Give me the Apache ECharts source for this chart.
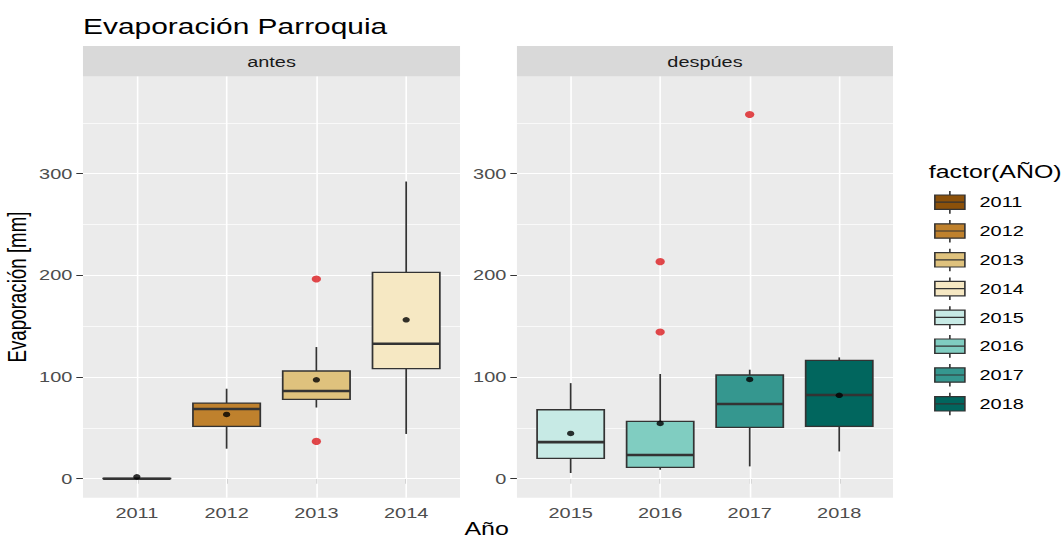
<!DOCTYPE html>
<html>
<head>
<meta charset="utf-8">
<script src="https://cdn.jsdelivr.net/npm/echarts@6/dist/echarts.min.js"></script>
<style>
  html, body { margin: 0; padding: 0; background: #ffffff; overflow: hidden; }
  #chart { width: 798px; height: 540px; transform: scaleX(1.3296); transform-origin: 0 0; }
</style>
</head>
<body>
<div id="chart"></div>
<script>
// ---------- data ----------
const years = ['2011', '2012', '2013', '2014', '2015', '2016', '2017', '2018'];
const panelAntes = ['2011', '2012', '2013', '2014'];
const panelDespues = ['2015', '2016', '2017', '2018'];
const whiskerLow  = [0,   29.5, 70,    44,    5.6,  8.8,  12.1,  26.8];
const q1          = [0,   51.4, 78,    108.2, 20,   11.1, 50.4,  51.4];
const median      = [0,   68.5, 86.2,  132.7, 36,   23.3, 73.5,  82.3];
const q3          = [0.4, 74.4, 105.9, 202.9, 67.8, 56.3, 102,   116.3];
const whiskerHigh = [0.4, 88.5, 129.5, 292.3, 94,   103,  107.2, 119.3];
const means       = [1.8, 63.2, 97.3,  156.3, 44.5, 54.4, 97.6,  82];
const outlierYears  = ['2013', '2013', '2016', '2016', '2017'];
const outlierValues = [196.4, 36.7, 213.5, 144.2, 358.2];
const yearColors = ['#8C510A', '#BF812D', '#DFC27D', '#F6E8C3', '#C7EAE5', '#80CDC1', '#35978F', '#01665E'];
const majorTicks = [0, 100, 200, 300];
const minorTicks = [50, 150, 250, 350];
const yMin = -18.7, yMax = 395.6;

// ---------- layout (internal px; page is stretched horizontally by CSS) ----------
const FONT = "'Liberation Sans', Arial, sans-serif";
const panels = [
  { left: 62.4, width: 283.6, cats: panelAntes, label: 'antes' },
  { left: 388.8, width: 282.8, cats: panelDespues, label: 'despúes' }
];
const PANEL_TOP = 76.5, PANEL_H = 421.2;
// discrete positions 1..n, with ggplot-like 0.6 expansion on each side
const catPos = cats => cats.map((c, i) => i + 1);
const catOf = (cats, y) => cats.indexOf(y) + 1;

function renderBox(params, api) {
  const c = api.value(0);
  const pLow = api.coord([c, api.value(1)]);
  const pQ1 = api.coord([c, api.value(2)]);
  const pMed = api.coord([c, api.value(3)]);
  const pQ3 = api.coord([c, api.value(4)]);
  const pHigh = api.coord([c, api.value(5)]);
  const bw = api.size([1, 0])[0] * 0.75;
  const cx = pMed[0];
  const fill = api.visual('color');
  const stroke = '#333333';
  return {
    type: 'group',
    children: [
      { type: 'line', shape: { x1: cx, y1: pLow[1], x2: cx, y2: pQ1[1] }, style: { stroke, lineWidth: 1.3 } },
      { type: 'line', shape: { x1: cx, y1: pQ3[1], x2: cx, y2: pHigh[1] }, style: { stroke, lineWidth: 1.3 } },
      { type: 'rect', shape: { x: cx - bw / 2, y: pQ3[1], width: bw, height: pQ1[1] - pQ3[1] }, style: { fill, stroke, lineWidth: 1.3 } },
      { type: 'line', shape: { x1: cx - bw / 2, y1: pMed[1], x2: cx + bw / 2, y2: pMed[1] }, style: { stroke, lineWidth: 2.6 } }
    ]
  };
}

const grid = panels.map(p => ({
  left: p.left, top: PANEL_TOP, width: p.width, height: PANEL_H,
  show: true, backgroundColor: '#EBEBEB', borderWidth: 0, containLabel: false
}));

const xAxis = panels.map((p, i) => ({
  type: 'value', gridIndex: i, min: 0.4, max: p.cats.length + 0.6,
  axisLine: { show: false },
  axisTick: { show: true, length: 5, customValues: catPos(p.cats), lineStyle: { color: '#333333', width: 1 } },
  axisLabel: { color: '#4D4D4D', fontSize: 15, fontFamily: FONT, margin: 8, customValues: catPos(p.cats),
    formatter: v => p.cats[Math.round(v) - 1] },
  splitLine: { show: false }
}));

const yAxis = panels.map((p, i) => ({
  type: 'value', gridIndex: i, min: yMin, max: yMax,
  axisLine: { show: false },
  axisTick: { show: true, length: 5, customValues: majorTicks, lineStyle: { color: '#333333', width: 1 } },
  axisLabel: { color: '#4D4D4D', fontSize: 15, fontFamily: FONT, margin: 8, customValues: majorTicks },
  splitLine: { show: false }
}));

const series = [];
// white panel grid lines, placed through the axes with markLine
panels.forEach((p, i) => {
  series.push({
    type: 'line', name: 'gridlines' + i, xAxisIndex: i, yAxisIndex: i, data: [], z: 1, silent: true,
    markLine: {
      z: 1, silent: true, symbol: 'none', label: { show: false }, animation: false,
      data: [
        ...minorTicks.map(v => ({ yAxis: v, lineStyle: { color: '#FFFFFF', width: 0.6, type: 'solid' } })),
        ...majorTicks.map(v => ({ yAxis: v, lineStyle: { color: '#FFFFFF', width: 1.2, type: 'solid' } })),
        ...catPos(p.cats).map(c => ({ xAxis: c, lineStyle: { color: '#FFFFFF', width: 1.2, type: 'solid' } }))
      ]
    }
  });
});

// one box series per year
years.forEach((y, k) => {
  const pi = panelAntes.includes(y) ? 0 : 1;
  series.push({
    type: 'custom', name: y, xAxisIndex: pi, yAxisIndex: pi, z: 3,
    itemStyle: { color: yearColors[k], borderColor: '#333333', borderWidth: 1 },
    encode: { x: 0, y: [1, 2, 3, 4, 5] },
    renderItem: renderBox,
    data: [[catOf(panels[pi].cats, y), whiskerLow[k], q1[k], median[k], q3[k], whiskerHigh[k]]]
  });
});

// outliers and means
panels.forEach((p, i) => {
  series.push({
    type: 'scatter', name: 'outliers' + i, xAxisIndex: i, yAxisIndex: i, z: 4,
    symbolSize: 7, itemStyle: { color: '#DC1C1F' },
    data: outlierYears.map((y, j) => [catOf(p.cats, y), outlierValues[j]]).filter(d => d[0] > 0)
  });
  series.push({
    type: 'scatter', name: 'means' + i, xAxisIndex: i, yAxisIndex: i, z: 5,
    symbolSize: 5.5, itemStyle: { color: '#000000' },
    data: years.map((y, k) => [catOf(p.cats, y), means[k]]).filter(d => d[0] > 0)
  });
});

const graphic = [];
panels.forEach(p => {
  graphic.push({ type: 'rect', left: p.left, top: 46, shape: { width: p.width, height: 30.5 }, style: { fill: '#D9D9D9' }, z: 0 });
  graphic.push({ type: 'text', x: p.left + p.width / 2, y: 61.5,
    style: { text: p.label, fill: '#1A1A1A', font: '15px ' + FONT, align: 'center', verticalAlign: 'middle' }, z: 1 });
});
graphic.push({ type: 'text', x: 13.5, y: 287, rotation: Math.PI / 2,
  style: { text: 'Evaporación [mm]', fill: '#000000', font: '18.75px ' + FONT, align: 'center', verticalAlign: 'middle' } });
graphic.push({ type: 'text', x: 366, y: 529,
  style: { text: 'Año', fill: '#000000', font: '18.75px ' + FONT, align: 'center', verticalAlign: 'middle' } });
graphic.push({ type: 'text', x: 698.5, y: 172,
  style: { text: 'factor(AÑO)', fill: '#000000', font: '18.75px ' + FONT, align: 'left', verticalAlign: 'middle' } });

const boxIcon = 'path://M0,0M226,276M0,64L226,64L226,208L0,208ZM0,136L226,136M113,25L113,64M113,208L113,251';

const option = {
  animation: false,
  backgroundColor: '#FFFFFF',
  title: {
    text: 'Evaporación Parroquia', left: 62.5, top: 15, padding: 0,
    textStyle: { fontSize: 22.5, fontWeight: 'normal', color: '#000000', fontFamily: FONT }
  },
  legend: {
    data: years, orient: 'vertical', left: 702.5, top: 188, padding: 0,
    itemWidth: 22.6, itemHeight: 27.6, itemGap: 0, icon: boxIcon, selectedMode: false,
    itemStyle: { borderColor: '#333333', borderWidth: 1.2 },
    textStyle: { fontSize: 15, color: '#000000', fontFamily: FONT, padding: [0, 0, 0, 6] }
  },
  grid, xAxis, yAxis, series, graphic
};

const chart = echarts.init(document.getElementById('chart'), null, { renderer: 'svg', width: 798, height: 540 });
chart.setOption(option);
</script>
</body>
</html>
